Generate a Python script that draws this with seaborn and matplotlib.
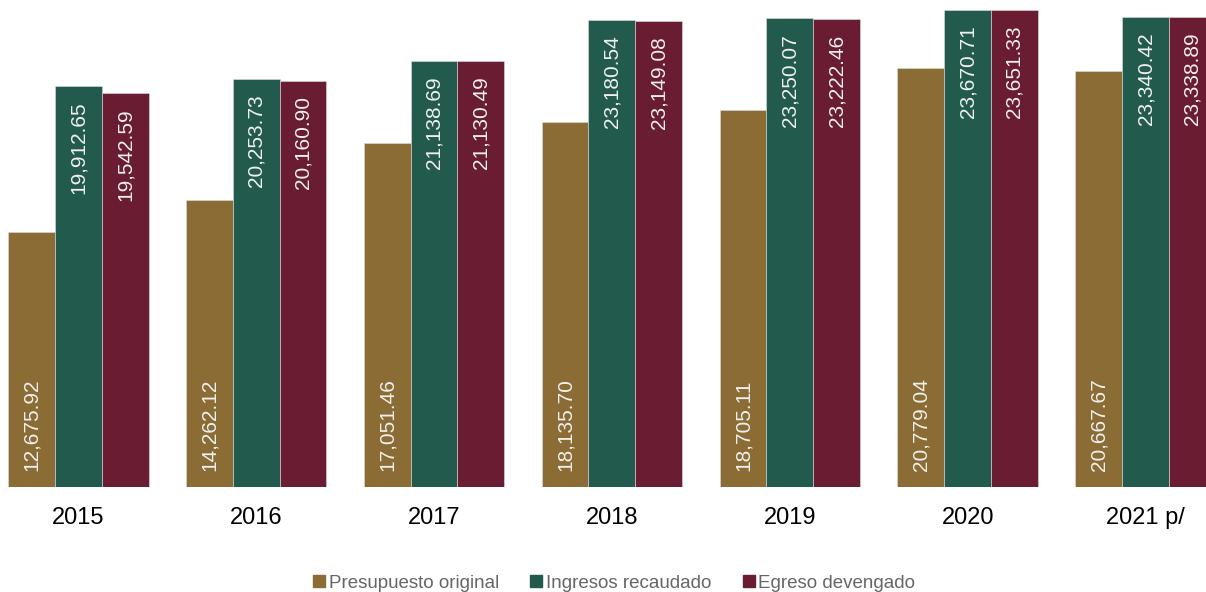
import pandas as pd
import matplotlib.pyplot as plt
import seaborn as sns
from matplotlib.lines import Line2D

years = ["2015", "2016", "2017", "2018", "2019", "2020", "2021 p/"]
series = ["Presupuesto original", "Ingresos recaudado", "Egreso devengado"]
presupuesto = [12675.92, 14262.12, 17051.46, 18135.70, 18705.11, 20779.04, 20667.67]
ingresos = [19912.65, 20253.73, 21138.69, 23180.54, 23250.07, 23670.71, 23340.42]
egreso = [19542.59, 20160.90, 21130.49, 23149.08, 23222.46, 23651.33, 23338.89]
colors = ["#8B6C34", "#235A4E", "#691C32"]

df = pd.DataFrame({
    "Año": years * 3,
    "Serie": [series[0]] * 7 + [series[1]] * 7 + [series[2]] * 7,
    "Valor": presupuesto + ingresos + egreso,
})

sns.set_style("white")
plt.rcParams["font.family"] = ["Liberation Sans", "DejaVu Sans"]

fig = plt.figure(figsize=(12.06, 5.92), dpi=100)
ax = fig.add_axes([0, 0.177, 1, 0.823])

sns.barplot(data=df, x="Año", y="Valor", hue="Serie", palette=colors,
            width=0.79, ax=ax, legend=False, saturation=1,
            edgecolor="#dddddd", linewidth=0.4)

ax.set_xlim(-0.44, 6.34)
ax.set_ylim(0, 24167)
ax.set_xlabel("")
ax.set_ylabel("")
ax.set_yticks([])
ax.tick_params(axis="x", length=0, pad=14, labelsize=17, labelcolor="black")
sns.despine(ax=ax, left=True, bottom=True)

# etiquetas de valor
for i, cont in enumerate(ax.containers):
    for bar in cont:
        h = bar.get_height()
        x = bar.get_x() + bar.get_width() / 2
        txt = f"{h:,.2f}"
        if i == 0:
            ax.annotate(txt, (x, 0), xytext=(0, 12), textcoords="offset points",
                        rotation=90, ha="center", va="bottom",
                        color="#f0f0f0", fontsize=15)
        else:
            ax.annotate(txt, (x, h), xytext=(0, -11), textcoords="offset points",
                        rotation=90, ha="center", va="top",
                        color="#f0f0f0", fontsize=15)

handles = [Line2D([], [], marker="s", linestyle="", markersize=8,
                  color=c) for c in colors]
fig.legend(handles, series, loc="lower center", bbox_to_anchor=(0.507, -0.028),
           ncol=3, frameon=False, fontsize=13.5, labelcolor="#666666",
           handletextpad=-0.1, handlelength=1.2, columnspacing=1.4)

fig.savefig("out.png", dpi=100)
